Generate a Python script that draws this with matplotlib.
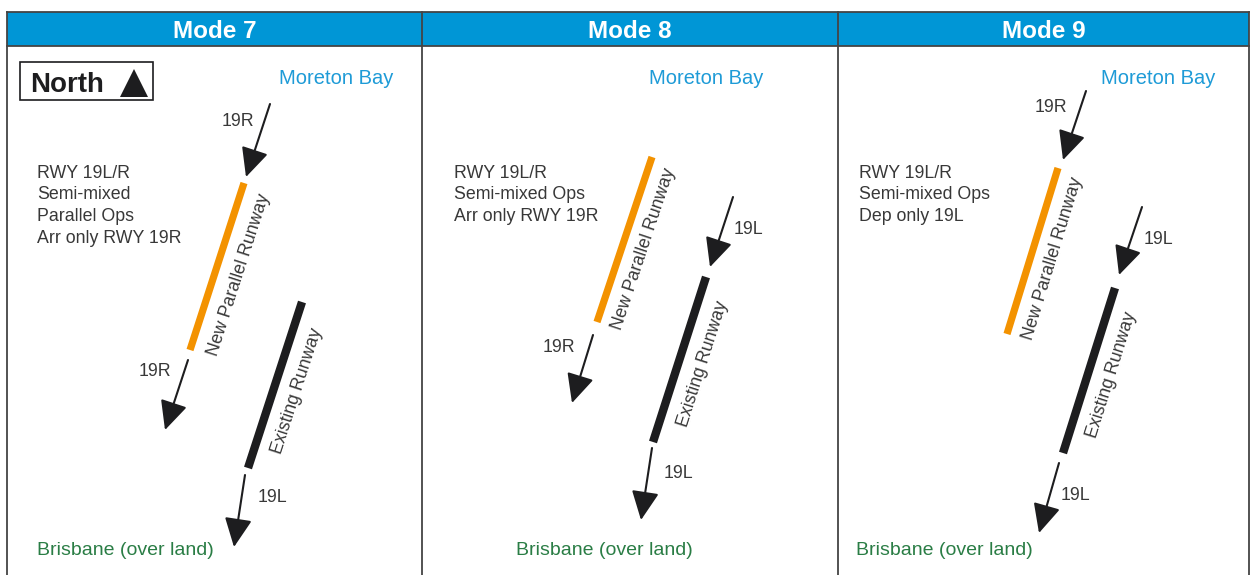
import numpy as np
import matplotlib.pyplot as plt
from matplotlib.patches import FancyArrowPatch, Rectangle

plt.rcParams['font.family'] = ['Liberation Sans', 'DejaVu Sans']

# panels (pixel layout of the original figure)
modes = ['Mode 7', 'Mode 8', 'Mode 9']
panel_edges = [7, 422, 838, 1249]
notes = ["RWY 19L/R\nSemi-mixed\nParallel Ops\nArr only RWY 19R",
         "RWY 19L/R\nSemi-mixed Ops\nArr only RWY 19R",
         "RWY 19L/R\nSemi-mixed Ops\nDep only 19L"]
notes_x = [37, 454, 859]
bay_x = [336, 706, 1158]
land_x = [37, 516, 856]

# runway ends (top, bottom)
new_rwy = [((244, 183), (190, 350)), ((652, 157), (597, 322)), ((1058, 168), (1007, 334))]
old_rwy = [((302, 302), (248, 468)), ((706, 277), (653, 442)), ((1115, 288), (1063, 453))]
new_lbl = [(239, 275), (644, 249), (1053, 259)]
old_lbl = [(297, 391), (703, 364), (1112, 375)]

# flight arrows: tail, tip, label, label position
arrows = [
    [((270, 104), (246, 177), '19R', (238, 122)),
     ((188, 360), (165, 430), '19R', (155, 371)),
     ((245, 475), (234, 547), '19L', (272, 498))],
    [((733, 197), (710, 267), '19L', (748, 230)),
     ((593, 335), (572, 403), '19R', (559, 347)),
     ((652, 448), (641, 520), '19L', (678, 473))],
    [((1086, 91), (1063, 160), '19R', (1051, 107)),
     ((1142, 207), (1119, 275), '19L', (1158, 239)),
     ((1059, 463), (1039, 533), '19L', (1075, 495))],
]

blue = '#0096d6'
bay_blue = '#1e9bd7'
green = '#2a7d45'
orange = '#f39200'
dark = '#1d1d1f'
txt = '#383838'

fig = plt.figure(figsize=(12.5, 5.75), dpi=100)
ax = fig.add_axes([0, 0, 1, 1])
ax.set_xlim(0, 1250)
ax.set_ylim(575, 0)
ax.axis('off')

# header band and frame
ax.add_patch(Rectangle((panel_edges[0], 12), panel_edges[-1] - panel_edges[0], 34,
                       facecolor=blue, edgecolor='none'))
ax.plot([panel_edges[0], panel_edges[-1]], [12, 12], color='#444444', lw=1.3)
ax.plot([panel_edges[0], panel_edges[-1]], [46, 46], color='#444444', lw=1.3)
for xe in panel_edges:
    ax.plot([xe, xe], [12, 575], color='#444444', lw=1.3)


def angle(p_top, p_bot):
    dx = p_top[0] - p_bot[0]
    dy = p_bot[1] - p_top[1]
    return np.degrees(np.arctan2(dy, dx))


for i, m in enumerate(modes):
    cx = (panel_edges[i] + panel_edges[i + 1]) / 2
    ax.text(cx, 38, m, color='white', fontsize=17.5, fontweight='bold',
            ha='center', va='baseline')
    ax.text(bay_x[i], 84, 'Moreton Bay', color=bay_blue, fontsize=14.5,
            ha='center', va='baseline')
    ax.text(land_x[i], 555, 'Brisbane (over land)', color=green, fontsize=14,
            ha='left', va='baseline')
    ax.text(notes_x[i], 164.5, notes[i], color=txt, fontsize=12.8,
            ha='left', va='top', linespacing=1.36)

    (t, b) = new_rwy[i]
    ax.plot([t[0], b[0]], [t[1], b[1]], color=orange, lw=5.2, solid_capstyle='butt')
    ax.text(new_lbl[i][0], new_lbl[i][1], 'New Parallel Runway', color=txt,
            fontsize=12.8, rotation=angle(t, b), rotation_mode='anchor',
            ha='center', va='center')
    (t, b) = old_rwy[i]
    ax.plot([t[0], b[0]], [t[1], b[1]], color=dark, lw=6, solid_capstyle='butt')
    ax.text(old_lbl[i][0], old_lbl[i][1], 'Existing Runway', color=txt,
            fontsize=12.8, rotation=angle(t, b), rotation_mode='anchor',
            ha='center', va='center')

    for tail, tip, lab, lp in arrows[i]:
        ax.add_patch(FancyArrowPatch(tail, tip,
                                     arrowstyle='-|>,head_length=1.05,head_width=0.5',
                                     mutation_scale=17, lw=1.5, color=dark,
                                     shrinkA=0, shrinkB=0))
        ax.text(lp[0], lp[1], lab, color=txt, fontsize=12.8, ha='center', va='center')

# north marker
ax.add_patch(Rectangle((20, 62), 133, 38, facecolor='white', edgecolor=dark, lw=1.2))
ax.text(30, 91.5, 'North', color=dark, fontsize=20, fontweight='bold', ha='left', va='baseline')
ax.plot([134], [83], marker='^', markersize=20, color=dark, markeredgewidth=0)

fig.savefig('out.png', dpi=100)
